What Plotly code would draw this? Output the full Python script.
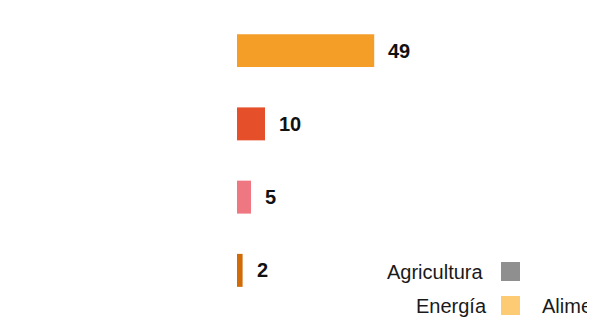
import plotly.graph_objects as go

# ---- data ----
categories = ["Categoría 1", "Categoría 2", "Categoría 3", "Categoría 4"]
values = [49, 10, 5, 2]
bar_colors = ["#F59E27", "#E5502B", "#EF7781", "#D16B07"]

legend_labels = ["Agricultura", "Energía", "Alimentación"]
legend_colors = ["#8F8F8F", "#FECB75", "#B5B5B5"]

# ---- layout geometry (page pixels; the page body adds an 8px margin) ----
OFF = 8
W, H = 595 - OFF, 318 - OFF
ML, MR, MT, MB = 237 - OFF, 0, 14 - OFF, 11
PW, PH = W - ML - MR, H - MT - MB
PX_PER_UNIT = 2.8
FONT = "Liberation Sans, Arial, Helvetica, sans-serif"


def px(x):
    return (x - OFF - ML) / PW


def py(y):
    return 1 - (y - OFF - MT) / PH


fig = go.Figure()
fig.add_trace(go.Bar(
    x=values, y=categories, orientation="h",
    marker=dict(color=bar_colors, line=dict(width=0)),
    hoverinfo="x+y", showlegend=False,
))

annotations = []
for c, v in zip(categories, values):
    annotations.append(dict(
        x=v, y=c, xref="x", yref="y", text=f"<b>{v}</b>", showarrow=False,
        xanchor="left", yanchor="middle", xshift=12,
        font=dict(family=FONT, size=20, color="#111111"),
    ))

# legend: text to the left of its swatch
# (text left edge, centre y) in page px; swatch x-start given separately
legend_pos = [(384.5, 271.5), (414, 305.5), (539.5, 305.5)]
swatch_x = [501, 501, 700]
shapes = []
for lab, col, (tx, ty), sx in zip(legend_labels, legend_colors, legend_pos, swatch_x):
    annotations.append(dict(
        x=px(tx), y=py(ty), xref="paper", yref="paper", text=lab, showarrow=False,
        xanchor="left", yanchor="middle",
        font=dict(family=FONT, size=20, color="#1a1a1a"),
    ))
    shapes.append(dict(
        type="rect", xref="paper", yref="paper",
        x0=px(sx), x1=px(sx + 19), y0=py(ty + 9.5), y1=py(ty - 9.5),
        fillcolor=col, line=dict(width=0),
    ))

fig.update_layout(
    width=W, height=H,
    margin=dict(l=ML, r=MR, t=MT, b=MB, pad=0),
    paper_bgcolor="white", plot_bgcolor="white",
    bargap=0.55,
    xaxis=dict(range=[0, PW / PX_PER_UNIT], visible=False, fixedrange=True),
    yaxis=dict(type="category", autorange="reversed", showticklabels=False,
               showgrid=False, zeroline=False, showline=False, ticks="", fixedrange=True),
    annotations=annotations,
    shapes=shapes,
    showlegend=False,
)

fig.write_html("out.html", config={"displayModeBar": False})
